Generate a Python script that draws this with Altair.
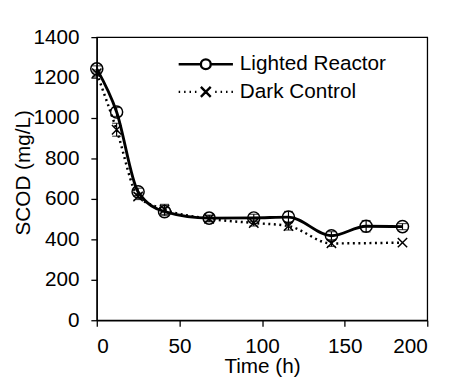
import altair as alt
import pandas as pd

# ---- data ----
series_names = ["Lighted Reactor", "Dark Control"]

time_lighted = [0, 12, 25, 41, 68, 95, 116, 142, 163, 185]
scod_lighted = [1243, 1030, 635, 537, 505, 506, 510, 418, 465, 463]
err_lighted = [15, 22, 18, 20, 15, 18, 28, 20, 28, 15]

time_dark = [0, 12, 25, 41, 68, 95, 116, 142, 185]
scod_dark = [1222, 942, 612, 548, 502, 481, 466, 380, 384]
err_dark = [15, 32, 15, 25, 15, 15, 20, 15, 0]

x_ticks = [0, 50, 100, 150, 200]
y_ticks = [0, 200, 400, 600, 800, 1000, 1200, 1400]

rows = []
for t, v, e in zip(time_lighted, scod_lighted, err_lighted):
    rows.append({"series": series_names[0], "time": t, "scod": v, "err": e})
for t, v, e in zip(time_dark, scod_dark, err_dark):
    rows.append({"series": series_names[1], "time": t, "scod": v, "err": e})
df = pd.DataFrame(rows)
df["lo"] = df["scod"] - df["err"]
df["hi"] = df["scod"] + df["err"]

FONT = "Liberation Sans"
X_PATH = "M-1,-1L1,1M-1,1L1,-1"

# legend symbols: line + marker
LEG_LIGHTED = ("M-2.75,0L-0.5,0M0.5,0L2.75,0"
               "M-0.5,0A0.5,0.5 0 1,1 0.5,0A0.5,0.5 0 1,1 -0.5,0")
LEG_DARK = ("M-2.75,0L-2.6,0M-2.2,0L-2.05,0M-1.65,0L-1.5,0M-1.1,0L-0.95,0"
            "M0.95,0L1.1,0M1.5,0L1.65,0M2.05,0L2.2,0M2.6,0L2.75,0"
            "M-0.5,-0.5L0.5,0.5M-0.5,0.5L0.5,-0.5")

x_enc = alt.X(
    "time:Q",
    scale=alt.Scale(domain=[0, 200], nice=False),
    axis=alt.Axis(values=x_ticks, title="Time (h)", labelPadding=10,
                  format="d", titleBaseline="top", titleY=36),
)
y_enc = alt.Y(
    "scod:Q",
    scale=alt.Scale(domain=[0, 1400], nice=False),
    axis=alt.Axis(values=y_ticks, title="SCOD (mg/L)", labelPadding=12,
                  format="d", titleBaseline="top", titleX=-85, titleY=137),
)

base = alt.Chart(df)
lighted = base.transform_filter(alt.datum.series == series_names[0])
dark = base.transform_filter(alt.datum.series == series_names[1])
with_err = base.transform_filter(alt.datum.err > 0)

err_rule = with_err.mark_rule(color="black", strokeWidth=1.2).encode(
    x=x_enc, y=alt.Y("lo:Q"), y2="hi:Q")
cap_lo = with_err.mark_tick(color="black", orient="horizontal", size=9,
                            thickness=1.2).encode(x=x_enc, y=alt.Y("lo:Q"))
cap_hi = with_err.mark_tick(color="black", orient="horizontal", size=9,
                            thickness=1.2).encode(x=x_enc, y=alt.Y("hi:Q"))

line_l = lighted.mark_line(color="black", strokeWidth=2.9,
                           interpolate="monotone").encode(x=x_enc, y=y_enc)
line_d = dark.mark_line(color="black", strokeWidth=2.5, strokeDash=[2, 3.6],
                        interpolate="monotone").encode(x=x_enc, y=y_enc)

pts_l = lighted.mark_point(shape="circle", size=150, filled=False,
                           color="black", strokeWidth=1.5, opacity=1).encode(
    x=x_enc, y=y_enc)
pts_d = dark.mark_point(shape=X_PATH, size=90, filled=False,
                        color="black", strokeWidth=1.5, opacity=1).encode(
    x=x_enc, y=y_enc)

legend_layer = base.transform_filter("false").mark_point(
    filled=False, color="black", strokeWidth=2.4, opacity=1, size=400
).encode(
    x=x_enc, y=y_enc,
    shape=alt.Shape(
        "series:N",
        scale=alt.Scale(domain=series_names, range=[LEG_LIGHTED, LEG_DARK]),
        legend=alt.Legend(
            title=None, orient="none", legendX=99, legendY=16,
            symbolSize=400, symbolStrokeWidth=2.4, symbolStrokeColor="black",
            labelFontSize=21, labelFont=FONT, labelColor="black",
            labelOffset=23, labelLimit=300, rowPadding=6, padding=0,
        ),
    ),
)

chart = alt.layer(
    err_rule, cap_lo, cap_hi, line_d, line_l, pts_d, pts_l, legend_layer
).properties(
    width=335, height=287,
    autosize=alt.AutoSizeParams(type="none"),
    padding={"left": 90, "top": 27, "right": 20, "bottom": 55},
).configure_view(
    stroke="black", strokeWidth=1.3
).configure_axis(
    grid=False, domainColor="black", domainWidth=1.3, tickColor="black",
    tickWidth=1.3, tickSize=6, labelColor="black", titleColor="black",
    labelFont=FONT, titleFont=FONT, labelFontSize=21, titleFontSize=21,
    titleFontWeight="normal",
)

chart.save("out.html", embed_options={"renderer": "svg", "actions": False})
